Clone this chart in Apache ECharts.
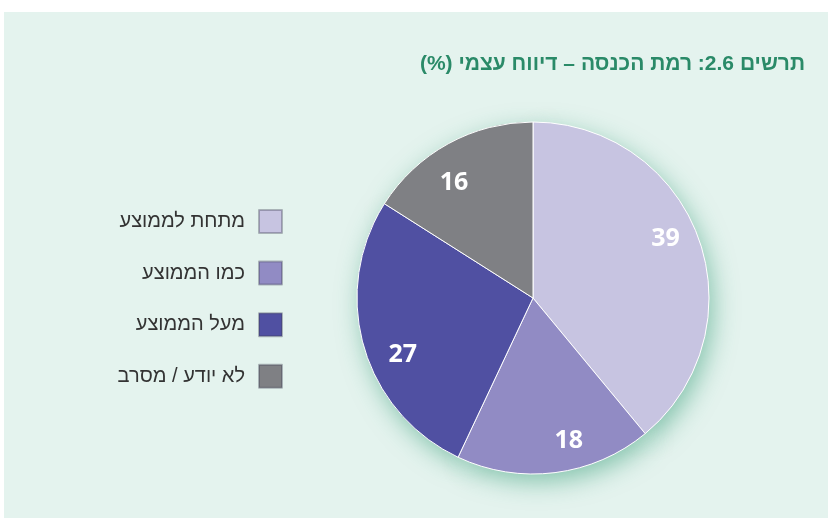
<!DOCTYPE html>
<html dir="rtl">
<head>
<meta charset="utf-8">
<script src="https://cdn.jsdelivr.net/npm/echarts@6/dist/echarts.min.js"></script>
<style>
html,body{margin:0;padding:0;background:#fff;}
#bg{position:absolute;left:4px;top:12px;width:824px;height:506px;background:#e4f3ee;}
#chart{position:absolute;left:0;top:0;width:828px;height:518px;direction:rtl;}
</style>
</head>
<body>
<div id="bg"></div>
<div id="chart"></div>
<script>
const categories = ['מתחת לממוצע', 'כמו הממוצע', 'מעל הממוצע', 'לא יודע / מסרב'];
const values = [39, 18, 27, 16];
const colors = ['#c7c4e1', '#918bc4', '#5050a2', '#7f8084'];
const titleBold = 'תרשים 2.6';
const titleRest = ': רמת הכנסה – דיווח עצמי (%)';

const chart = echarts.init(document.getElementById('chart'), null, {renderer: 'canvas'});
const R = 176;
const C = [533, 298];
const data = categories.map((c, i) => ({name: c, value: values[i], itemStyle: {color: colors[i]}}));
const option = {
  backgroundColor: 'transparent',
  animation: false,
  title: {
    text: '{r|' + titleRest + '}{b|' + titleBold + '}',
    right: 18,
    top: 49,
    textStyle: {
      rich: {
        r: {fontFamily: 'Liberation Sans, DejaVu Sans', fontSize: 21, color: '#2a8a68'},
        b: {fontFamily: 'Liberation Sans, DejaVu Sans', fontSize: 21, fontWeight: 'bold', color: '#2a8a68'}
      }
    }
  },
  legend: {
    orient: 'vertical',
    align: 'right',
    right: 540,
    top: 204,
    itemWidth: 23,
    itemHeight: 23,
    itemGap: 26.6,
    icon: 'rect',
    selectedMode: false,
    data: categories,
    itemStyle: {borderColor: 'rgba(60,60,80,0.35)', borderWidth: 2},
    textStyle: {fontFamily: 'Liberation Sans, DejaVu Sans', fontSize: 20, color: '#333', padding: [0, 9, 0, 0]}
  },
  series: [
    {
      type: 'pie',
      z: 1,
      center: C,
      radius: [0, R],
      startAngle: 90,
      silent: true,
      legendHoverLink: false,
      label: {show: false},
      labelLine: {show: false},
      itemStyle: {
        borderWidth: 0,
        shadowColor: 'rgba(40,150,110,0.5)', shadowBlur: 24, shadowOffsetX: 4, shadowOffsetY: 8
      },
      data: categories.map((c, i) => ({name: c + '\u200B', value: values[i], itemStyle: {color: colors[i]}}))
    },
    {
      type: 'pie',
      z: 2,
      center: C,
      radius: [0, R],
      startAngle: 90,
      silent: true,
      label: {show: false},
      labelLine: {show: false},
      itemStyle: {borderColor: '#ffffff', borderWidth: 1},
      data: data
    },
    {
      type: 'pie',
      z: 3,
      center: [C[0] + 3, C[1] + 3],
      radius: [R * 0.6, R],
      startAngle: 96,
      silent: true,
      legendHoverLink: false,
      itemStyle: {color: 'transparent', borderWidth: 0},
      label: {
        show: true, position: 'inside', formatter: '{c}',
        color: '#fff', fontFamily: 'Open Sans', fontWeight: 'bold', fontSize: 25
      },
      labelLine: {show: false},
      data: categories.map((c, i) => ({name: c + ' ', value: values[i], itemStyle: {color: 'transparent'}}))
    }
  ]
};
chart.setOption(option);
</script>
</body>
</html>
